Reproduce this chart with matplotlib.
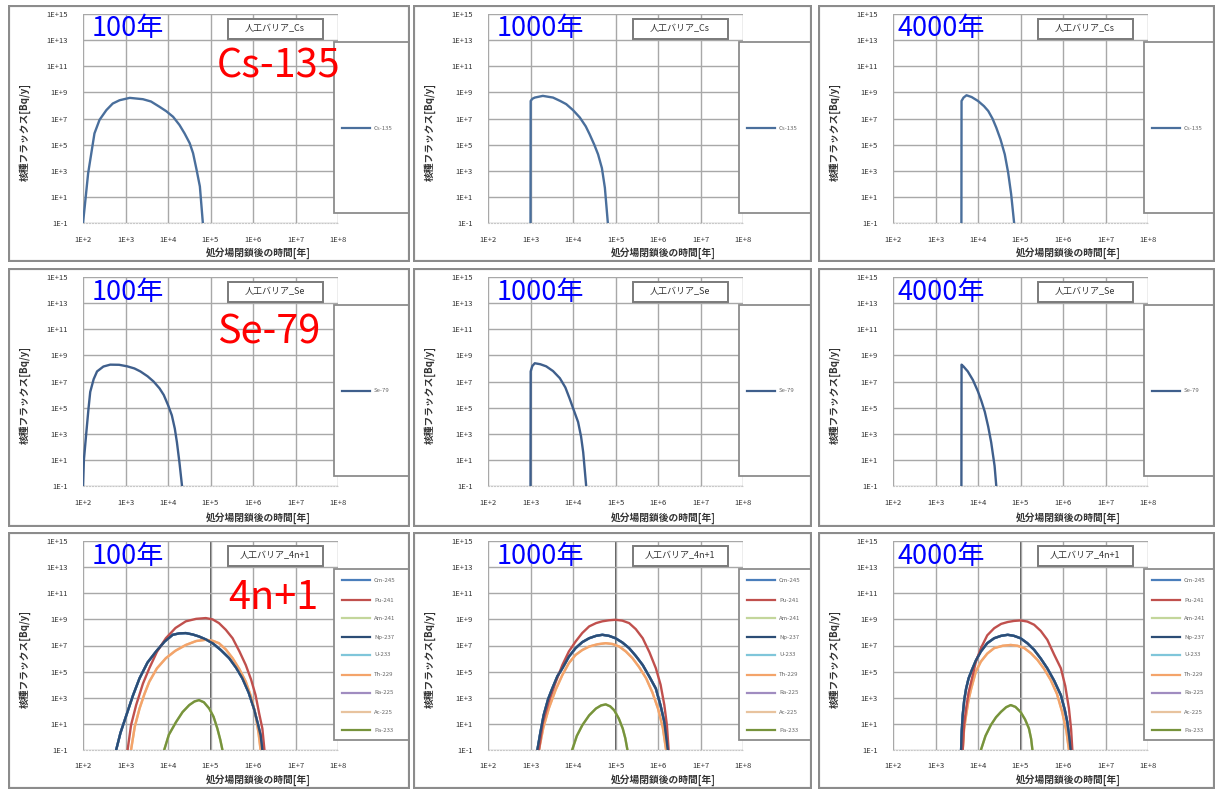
import matplotlib
matplotlib.use('Agg')
import matplotlib.pyplot as plt
from matplotlib.patches import Rectangle

plt.rcParams['font.family'] = ['Noto Sans CJK JP', 'DejaVu Sans']

# ---- data (time [y], flux [Bq/y]) ----
# Cs-135
t_cs_100 = [100, 110, 132, 186, 245, 355, 501, 724, 1259, 2570, 3980, 6310, 9120, 13180, 18620, 24550, 32360, 38900, 46770, 56230, 66070]
f_cs_100 = [0.1, 1.9, 630, 7.2e5, 7.9e6, 4.4e7, 1.4e8, 2.5e8, 3.8e8, 3.0e8, 2.0e8, 7.9e7, 3.6e7, 1.35e7, 3.2e6, 7.2e5, 1.3e5, 2.2e4, 1.3e3, 63, 0.1]
t_cs_1000 = [1000, 1010, 1100, 1260, 1950, 3390, 5010, 6920, 10000, 14450, 19950, 24550, 31620, 38900, 47860, 56230, 66070]
f_cs_1000 = [0.1, 2.2e8, 3.2e8, 4.0e8, 5.4e8, 4.0e8, 2.2e8, 1.26e8, 4.4e7, 1.2e7, 2.5e6, 6.3e5, 1.0e5, 1.8e4, 1.6e3, 50, 0.1]
t_cs_4000 = [4070, 4100, 4570, 5370, 7080, 10000, 13800, 17380, 21880, 26920, 33880, 42660, 51300, 60260, 70790]
f_cs_4000 = [0.1, 2.2e8, 4.0e8, 6.0e8, 4.4e8, 2.2e8, 8.9e7, 3.8e7, 1.0e7, 2.0e6, 2.5e5, 1.8e4, 7.0e2, 16, 0.1]

# Se-79
t_se_100 = [100, 105, 120, 135, 148, 178, 214, 302, 437, 708, 1096, 1620, 2239, 3310, 4571, 6310, 7943, 10000, 12300, 14450, 16220, 18620, 21380]
f_se_100 = [0.1, 10, 1350, 9.0e4, 1.6e6, 1.5e7, 5.9e7, 1.4e8, 1.95e8, 1.9e8, 1.45e8, 1.0e8, 5.9e7, 2.5e7, 1.0e7, 3.0e6, 9.3e5, 1.6e5, 2.6e4, 2.5e3, 220, 6, 0.1]
t_se_1000 = [1000, 1010, 1100, 1260, 1700, 2340, 3390, 4900, 6610, 8320, 10720, 13180, 15490, 17380, 20420]
f_se_1000 = [0.1, 5.9e7, 1.5e8, 2.5e8, 2.1e8, 1.45e8, 6.3e7, 1.8e7, 3.5e6, 5.0e5, 5.0e4, 7.9e3, 600, 38, 0.1]
t_se_4000 = [4070, 4100, 4570, 5750, 7590, 10000, 12020, 14450, 17380, 20420, 24550, 26920]
f_se_4000 = [0.1, 1.95e8, 1.4e8, 5.9e7, 1.3e7, 1.7e6, 3.2e5, 4.8e4, 3.5e3, 220, 3.5, 0.1]

# 4n+1 chain: four curve shapes per start time
t_top_100 = [1120, 1350, 1780, 2570, 3630, 5500, 8910, 15000, 26300, 46000, 77600, 112000, 158000, 229000, 331000, 480000, 676000, 900000, 1150000, 1400000, 1660000, 1860000]
f_top_100 = [0.1, 8, 275, 1.2e4, 1.8e5, 3.3e6, 3.6e7, 2.2e8, 7.1e8, 1.1e9, 1.26e9, 1.0e9, 5.2e8, 1.6e8, 3.6e7, 3.5e6, 3.2e5, 2.5e4, 1580, 60, 4.4, 0.1]
t_mid_100 = [603, 760, 1050, 1500, 2140, 3300, 5250, 8300, 12900, 18500, 26300, 38000, 53700, 78000, 112000, 175000, 275000, 400000, 562000, 790000, 1050000, 1300000, 1510000, 1660000]
f_mid_100 = [0.1, 2, 47, 1.5e3, 3.1e4, 5.0e5, 3.5e6, 2.0e7, 6.6e7, 8.5e7, 8.9e7, 7.0e7, 4.9e7, 2.9e7, 1.5e7, 4.5e6, 1.07e6, 2.0e5, 3.1e4, 2.5e3, 150, 10, 1.35, 0.1]
t_low_100 = [1350, 1650, 2140, 2800, 3630, 5500, 8910, 15000, 26300, 46000, 77600, 112000, 158000, 229000, 331000, 480000, 676000, 900000, 1150000, 1350000, 1510000]
f_low_100 = [0.1, 6, 150, 2.0e3, 1.7e4, 1.8e5, 1.07e6, 4.0e6, 1.1e7, 2.2e7, 2.75e7, 2.3e7, 1.5e7, 5.0e6, 1.07e6, 1.5e5, 1.7e4, 1.2e3, 47, 2, 0.1]
t_small_100 = [8130, 10500, 15500, 22000, 31600, 42000, 53700, 70000, 93300, 118000, 145000, 170000, 191000]
f_small_100 = [0.1, 1.5, 14, 80, 275, 520, 660, 450, 150, 35, 4.4, 0.6, 0.1]

t_top_1000 = [1580, 1950, 2690, 3900, 5620, 8000, 11500, 16500, 24000, 35000, 49000, 70000, 100000, 145000, 209000, 300000, 437000, 630000, 891000, 1150000, 1410000, 1620000, 1780000]
f_top_1000 = [0.1, 12, 500, 1.5e4, 3.2e5, 3.5e6, 2.0e7, 9.0e7, 2.9e8, 5.2e8, 7.1e8, 8.5e8, 9.3e8, 8.0e8, 5.2e8, 1.8e8, 3.6e7, 3.0e6, 1.8e5, 1.0e4, 275, 8, 0.1]
t_mid_1000 = [1450, 1700, 2040, 2600, 3240, 4300, 5620, 8000, 11500, 16500, 24000, 35000, 49000, 70000, 100000, 145000, 209000, 300000, 437000, 630000, 891000, 1150000, 1410000, 1700000]
f_mid_1000 = [0.1, 2, 47, 800, 5000, 4.5e4, 1.8e5, 1.4e6, 6.3e6, 1.8e7, 3.6e7, 5.5e7, 6.6e7, 5.5e7, 3.6e7, 1.7e7, 6.3e6, 1.6e6, 3.2e5, 4.0e4, 5000, 250, 14, 0.1]
t_low_1000 = [1580, 2000, 2690, 3900, 5620, 8000, 11500, 16500, 24000, 38000, 58900, 85000, 123000, 175000, 251000, 360000, 525000, 740000, 1000000, 1300000, 1550000]
f_low_1000 = [0.1, 5, 150, 4.0e3, 5.5e4, 4.5e5, 1.9e6, 4.5e6, 8.3e6, 1.25e7, 1.5e7, 1.3e7, 8.3e6, 3.5e6, 1.07e6, 2.2e5, 3.1e4, 2.5e3, 150, 5, 0.1]
t_small_1000 = [9550, 12300, 16600, 24000, 34700, 46000, 58900, 75000, 93300, 120000, 148000, 170000, 191000]
f_small_1000 = [0.1, 1.2, 8, 45, 150, 260, 310, 220, 110, 25, 4.4, 0.8, 0.1]

t_top_4000 = [4370, 4700, 5250, 6000, 6920, 8900, 11700, 16500, 24000, 35000, 50100, 70000, 100000, 145000, 209000, 300000, 427000, 620000, 891000, 1130000, 1380000, 1550000, 1660000]
f_top_4000 = [0.1, 8, 150, 2.5e3, 1.7e4, 5.5e5, 6.3e6, 6.0e7, 2.1e8, 4.5e8, 6.3e8, 7.6e8, 8.3e8, 6.8e8, 3.9e8, 1.3e8, 2.75e7, 2.0e6, 1.8e5, 8.0e3, 150, 4, 0.1]
t_mid_4000 = [4000, 4150, 4370, 4750, 5250, 6000, 6920, 8900, 11700, 16500, 24000, 35000, 50100, 70000, 100000, 145000, 209000, 300000, 427000, 620000, 891000, 1100000, 1260000, 1400000, 1510000]
f_mid_4000 = [0.1, 3, 47, 700, 5000, 3.0e4, 1.0e5, 7.0e5, 3.5e6, 1.5e7, 3.6e7, 5.5e7, 6.6e7, 5.5e7, 3.6e7, 1.5e7, 4.7e6, 1.0e6, 1.8e5, 2.0e4, 1580, 120, 14, 1, 0.1]
t_low_4000 = [4370, 4700, 5250, 6000, 6920, 8900, 11700, 16500, 24000, 38000, 58900, 85000, 123000, 175000, 251000, 360000, 513000, 720000, 955000, 1200000, 1380000]
f_low_4000 = [0.1, 4, 47, 700, 5000, 1.0e5, 5.9e5, 2.4e6, 6.3e6, 9.5e6, 1.1e7, 9.5e6, 6.3e6, 2.6e6, 7.9e5, 1.6e5, 2.3e4, 2.0e3, 83, 3, 0.1]
t_small_4000 = [11700, 15000, 20000, 26500, 34700, 46000, 58900, 76000, 100000, 128000, 158000, 178000, 191000]
f_small_4000 = [0.1, 1.2, 8, 32, 83, 190, 275, 200, 83, 22, 4.4, 0.7, 0.1]

nuclides = ['Cm-245', 'Pu-241', 'Am-241', 'Np-237', 'U-233', 'Th-229', 'Ra-225', 'Ac-225', 'Pa-233']
n_colors = ['#4a7ebb', '#c0504d', '#c3d69b', '#2c4d75', '#7fc6da', '#f4a46a', '#a08cc0', '#e8c39e', '#77933c']
n_shape = ['mid', 'top', 'small', 'mid', 'mid', 'low', 'mid', 'low', 'small']
n_zorder = [3, 4, 2, 4, 2, 3, 1, 2, 3]

years = ['100年', '1000年', '4000年']
x_ticks = [1e2, 1e3, 1e4, 1e5, 1e6, 1e7, 1e8]
x_labels = ['1E+2', '1E+3', '1E+4', '1E+5', '1E+6', '1E+7', '1E+8']
y_ticks = [1e-1, 1e1, 1e3, 1e5, 1e7, 1e9, 1e11, 1e13, 1e15]
y_labels = ['1E-1', '1E+1', '1E+3', '1E+5', '1E+7', '1E+9', '1E+11', '1E+13', '1E+15']

W, H = 1218, 789
fig = plt.figure(figsize=(W / 100, H / 100), dpi=100)
fig.patch.set_facecolor('white')

col_x = [8, 413, 818]
col_w = [402, 399, 397]
row_y = [5, 268, 532]
row_h = [257, 259, 257]


def frac(x, y, w, h):
    return [x / W, 1 - (y + h) / H, w / W, h / H]


def panel(col, row, curves, title, big, big_x, big_y):
    x0, y0, pw, ph = col_x[col], row_y[row], col_w[col], row_h[row]

    bg = fig.add_axes(frac(x0, y0, pw, ph), zorder=1)
    bg.set_xlim(0, pw)
    bg.set_ylim(ph, 0)
    bg.axis('off')
    bg.add_patch(Rectangle((0, 0), pw, ph, fc='white', ec='none'))

    ax = fig.add_axes(frac(x0 + 75, y0 + 9, 255, 209), zorder=2)
    ax.set_facecolor('none')
    ax.set_xscale('log')
    ax.set_yscale('log')
    for lab, t, f, c, z in curves:
        ax.plot(t, f, color=c, lw=1.7, label=lab, zorder=z + 2,
                solid_joinstyle='round')
    if row == 2:
        ax.axvline(1e5, color='#3a3a3a', lw=1.2, zorder=1.5)
    ax.set_xlim(1e2, 1e8)
    ax.set_ylim(1e-1, 1e15)
    ax.set_xticks(x_ticks)
    ax.set_xticklabels(x_labels)
    ax.set_yticks(y_ticks)
    ax.set_yticklabels(y_labels)
    ax.minorticks_off()
    ax.tick_params(length=0, labelsize=5.5, labelcolor='#333333')
    ax.tick_params(axis='y', pad=11)
    ax.tick_params(axis='x', pad=9)
    ax.grid(True, color='#a8a8a8', lw=1.0)
    for s in ax.spines.values():
        s.set_visible(False)
    ax.spines['bottom'].set_visible(True)
    ax.spines['bottom'].set_color('#c8c8c8')
    ax.spines['bottom'].set_linestyle(':')

    fg = fig.add_axes(frac(x0, y0, pw, ph), zorder=3)
    fg.set_xlim(0, pw)
    fg.set_ylim(ph, 0)
    fg.axis('off')
    fg.patch.set_alpha(0)
    # legend box
    fg.add_patch(Rectangle((326, 37), pw, 171, fc='white', ec='#8c8c8c', lw=1.3))
    if len(curves) == 1:
        ys = [123]
    else:
        ys = [48, 68, 86, 105, 123, 143, 161, 180, 198]
    for yy, (lab, t, f, c, z) in zip(ys, curves):
        fg.plot([334, 362], [yy, yy], color=c, lw=1.6)
        fg.text(366, yy, lab, fontsize=4.3, color='#666666', va='center')
    # chart title box
    fg.add_patch(Rectangle((220, 14), 95, 20, fc='white', ec='#7a7a7a', lw=1.4))
    fg.text(267, 24, title, fontsize=6.5, color='#333333', ha='center', va='center')
    # axis titles
    fg.text(250, ph - 9, '処分場閉鎖後の時間[年]', fontsize=7, color='#333333',
            ha='center', va='center', fontweight='bold')
    fg.text(17, 127, '核種フラックス[Bq/y]', fontsize=7, color='#333333',
            ha='center', va='center', rotation=90, fontweight='bold')
    # slide annotations
    fg.text(84 - (4 if col == 2 else 0), 24, years[col], fontsize=19.5, color='#0000ff',
            va='center', ha='left')
    if big:
        fg.text(big_x, big_y, big, fontsize=28.5, color='#ff0000', va='center', ha='left')
    # panel border on top of everything
    fg.add_patch(Rectangle((0, 0), pw, ph, fc='none', ec='#8c8c8c', lw=3, zorder=10))


cs = [(t_cs_100, f_cs_100), (t_cs_1000, f_cs_1000), (t_cs_4000, f_cs_4000)]
se = [(t_se_100, f_se_100), (t_se_1000, f_se_1000), (t_se_4000, f_se_4000)]
chain = [
    {'top': (t_top_100, f_top_100), 'mid': (t_mid_100, f_mid_100),
     'low': (t_low_100, f_low_100), 'small': (t_small_100, f_small_100)},
    {'top': (t_top_1000, f_top_1000), 'mid': (t_mid_1000, f_mid_1000),
     'low': (t_low_1000, f_low_1000), 'small': (t_small_1000, f_small_1000)},
    {'top': (t_top_4000, f_top_4000), 'mid': (t_mid_4000, f_mid_4000),
     'low': (t_low_4000, f_low_4000), 'small': (t_small_4000, f_small_4000)},
]

for col in range(3):
    panel(col, 0, [('Cs-135', cs[col][0], cs[col][1], '#4a6f9c', 1)], '人工バリア_Cs',
          'Cs-135' if col == 0 else None, 209, 61)
    panel(col, 1, [('Se-79', se[col][0], se[col][1], '#3f5f8c', 1)], '人工バリア_Se',
          'Se-79' if col == 0 else None, 209, 65)
    curves = []
    for lab, c, shp, z in zip(nuclides, n_colors, n_shape, n_zorder):
        t, f = chain[col][shp]
        curves.append((lab, t, f, c, z))
    panel(col, 2, curves, '人工バリア_4n+1', '4n+1' if col == 0 else None, 220, 66)

fig.savefig('out.png', dpi=100)
